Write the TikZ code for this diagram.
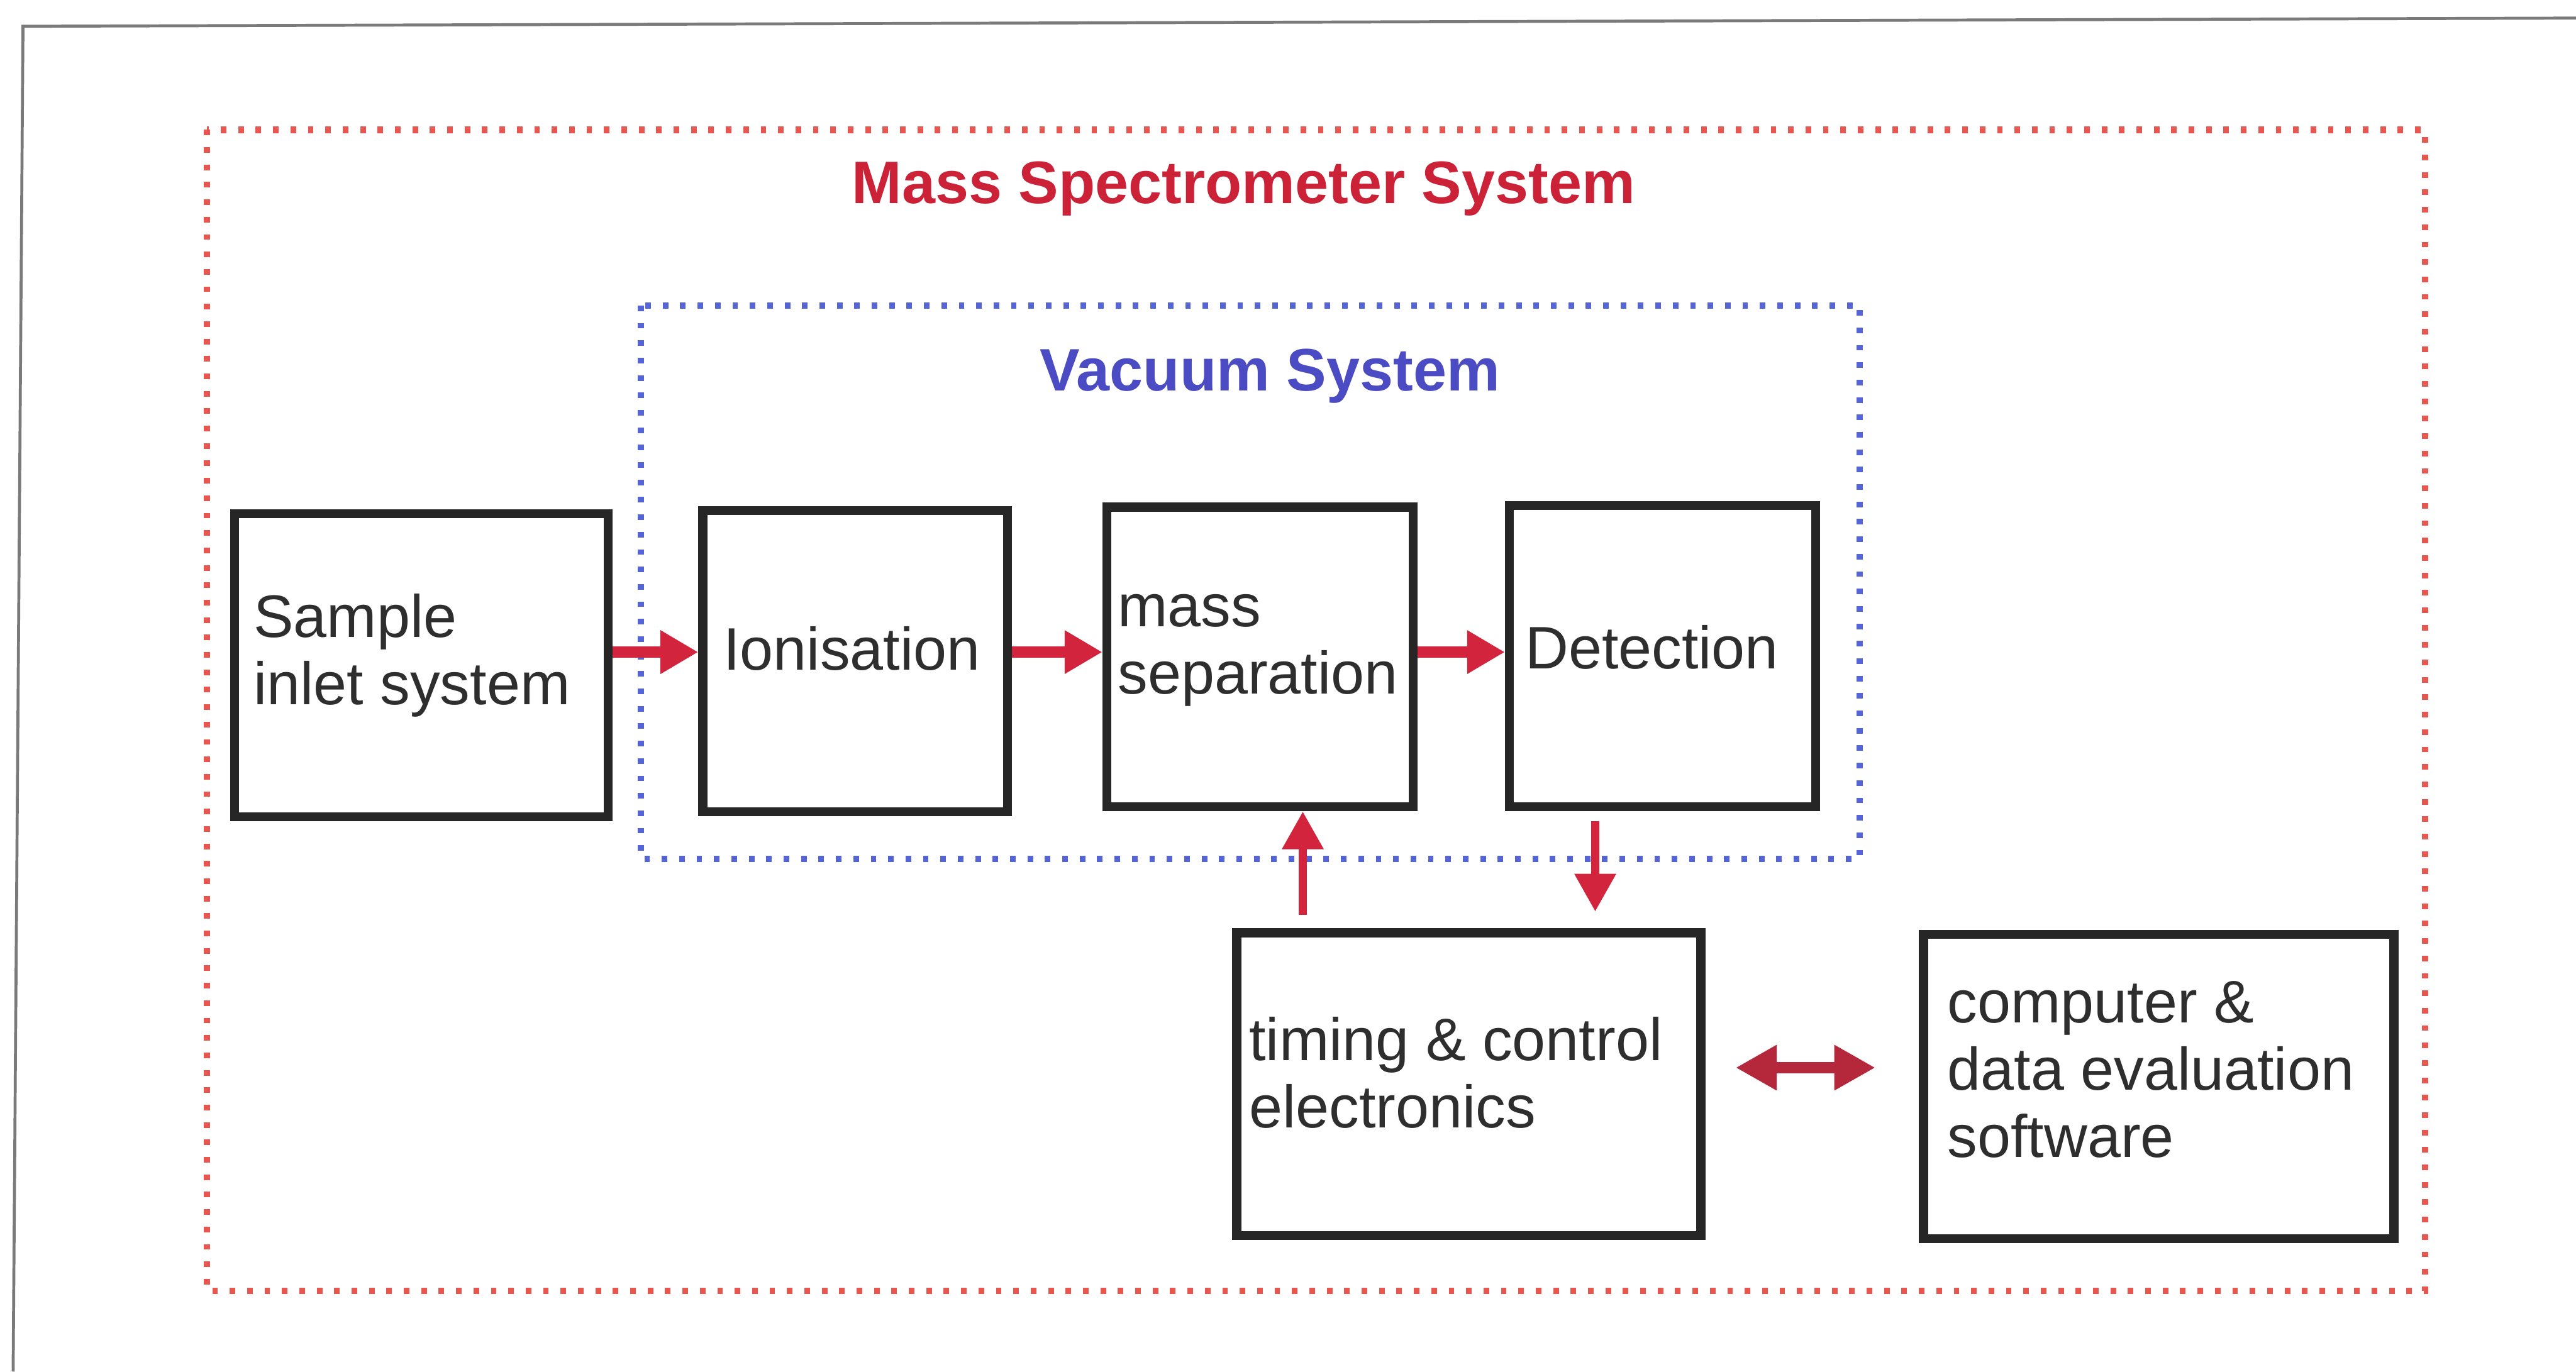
\documentclass[tikz,border=0pt]{standalone}
\usepackage{fontspec}
\setmainfont{Liberation Sans}
\usetikzlibrary{arrows.meta}
\definecolor{framegray}{HTML}{7A7A7A}
\definecolor{dotred}{HTML}{E8574F}
\definecolor{dotblue}{HTML}{5564D6}
\definecolor{titlered}{HTML}{CC2238}
\definecolor{titleblue}{HTML}{4B4BC4}
\definecolor{arrred}{HTML}{D2243C}
\definecolor{arrdark}{HTML}{B5273A}
\definecolor{boxline}{HTML}{262626}
\definecolor{txtgray}{HTML}{2E2E2E}
\tikzset{
  blockbox/.style={draw=boxline, line width=2.8pt, fill=white, inner sep=0pt},
  txt/.style={inner sep=0pt, align=left, text=txtgray, font=\fontsize{18.25}{20.5}\selectfont},
  ttl/.style={inner sep=0pt, font=\fontsize{18.25}{20.5}\selectfont\bfseries},
  dotbox/.style={line width=2pt, dash pattern=on 1.7pt off 3.6pt},
  arrh/.style={draw=arrred, line width=3.5pt, -{Triangle[length=11.5pt,width=12.5pt]}},
  arrv/.style={draw=arrred, line width=2.6pt, -{Triangle[length=11.5pt,width=12pt]}},
  arrd/.style={draw=arrdark, line width=3.3pt, {Triangle[length=12.5pt,width=13pt]}-{Triangle[length=12.5pt,width=13pt]}}
}
\begin{document}
\begin{tikzpicture}[x=0.5pt, y=-0.5pt]
\useasboundingbox (0,0) rectangle (1568,835);
\fill[white] (0,0) rectangle (1568,835);
% scanned page frame
\draw[framegray, line width=0.9pt] (8,835) -- (14,16) -- (1568,11);
% outer system (red dotted) and vacuum system (blue dotted)
\draw[dotbox, dotred] (126,79) rectangle (1476,786);
\draw[dotbox, dotblue] (390,186) rectangle (1132,523);
\node[ttl, text=titlered, anchor=base] (msstitle) at (757,124) {Mass Spectrometer System};
\node[ttl, text=titleblue, anchor=base] (vactitle) at (773,238) {Vacuum System};
% blocks
\node[blockbox, minimum width=113.7pt, minimum height=92.2pt] (sample) at (256.5,405) {};
\node[blockbox, minimum width=92.7pt, minimum height=91.7pt] (ion) at (520.5,402.5) {};
\node[blockbox, minimum width=93.2pt, minimum height=91.2pt] (mass) at (767,400) {};
\node[blockbox, minimum width=93.2pt, minimum height=91.7pt] (det) at (1012,399.5) {};
\node[blockbox, minimum width=141.2pt, minimum height=92.2pt] (timing) at (894,660) {};
\node[blockbox, minimum width=143.2pt, minimum height=92.7pt] (comp) at (1314,661.5) {};
% texts
\node[txt, anchor=west] (sampletxt) at (154,399) {Sample\\inlet system};
\node[txt, anchor=west] (iontxt) at (440,395) {Ionisation};
\node[txt, anchor=west] (masstxt) at (680,396) {mass\\separation};
\node[txt, anchor=west] (dettxt) at (928,394) {Detection};
\node[txt, anchor=west] (timingtxt) at (760,653) {timing \& control\\electronics};
\node[txt, anchor=west] (comptxt) at (1185,651) {computer \&\\data evaluation\\software};
% helper coordinates
\coordinate (rowy) at (0,397);
\coordinate (upx) at (793,0);
\coordinate (downx) at (971,0);
\coordinate (dbly) at (0,650);
% arrows
\draw[arrh] (sample.east |- rowy) -- (ion.west |- rowy);
\draw[arrh] (ion.east |- rowy) -- (mass.west |- rowy);
\draw[arrh] (mass.east |- rowy) -- (det.west |- rowy);
\draw[arrv, shorten <=4pt] (timing.north -| upx) -- (mass.south -| upx);
\draw[arrv, shorten <=3pt, shorten >=5pt] (det.south -| downx) -- (timing.north -| downx);
\draw[arrd, shorten <=9.25pt, shorten >=13.25pt] (timing.east |- dbly) -- (comp.west |- dbly);
\end{tikzpicture}
\end{document}
